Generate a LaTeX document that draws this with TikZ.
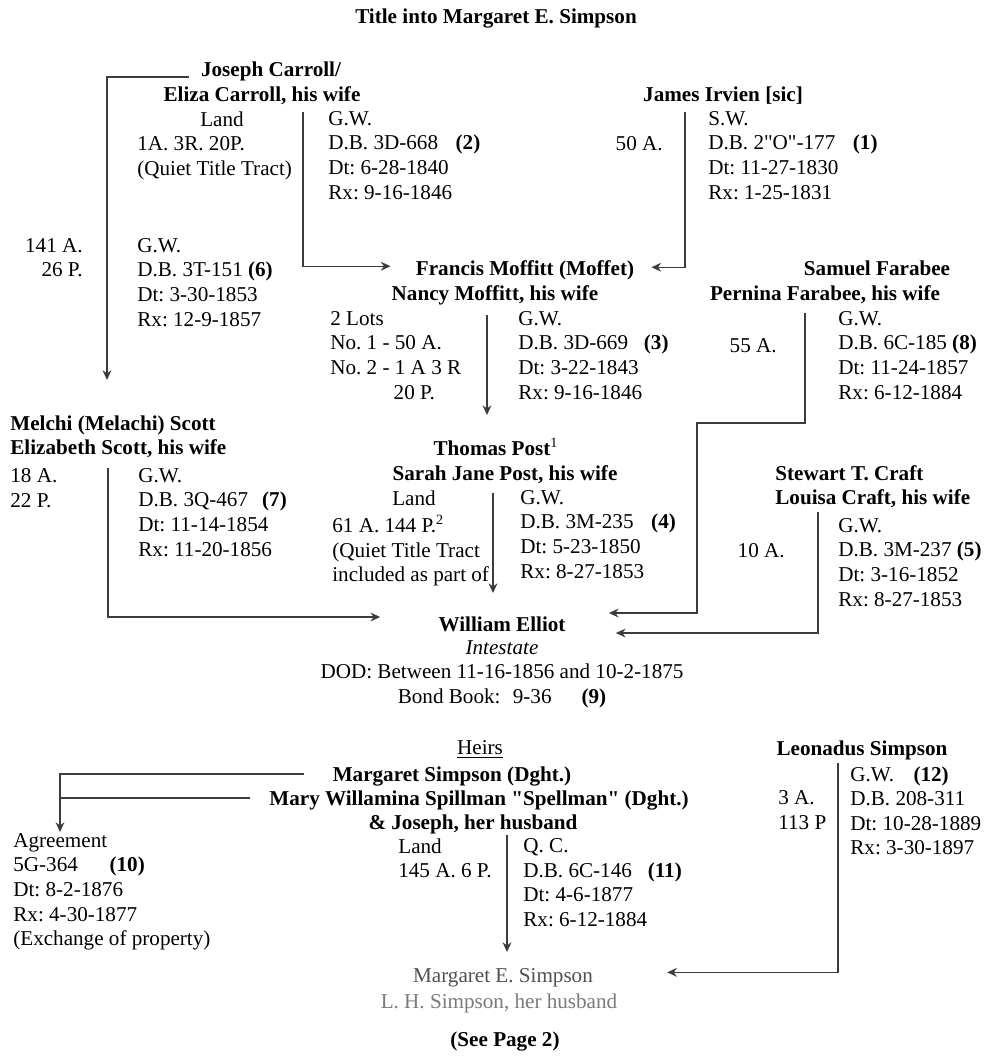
\documentclass[tikz,border=0pt]{standalone}
\usepackage{fontspec}
\setmainfont{Liberation Serif}[Ligatures=TeXOff]
\usetikzlibrary{arrows.meta,calc}
\definecolor{ink}{HTML}{3C3C3C}
\definecolor{fade}{HTML}{505050}
\definecolor{fadel}{HTML}{7A7A7A}
\frenchspacing

\begin{document}
\begin{tikzpicture}[x=0.568pt, y=-0.568pt,
      every node/.style={inner sep=0pt, font=\fontsize{12}{14}\selectfont},
      who/.style={anchor=north, font=\fontsize{12}{14}\selectfont\bfseries},
      col/.style={anchor=north west, align=left},
      rcol/.style={anchor=north east, align=right},
      lnk/.style={draw=ink, line width=0.7pt},
      arr/.style={lnk, -{Stealth[length=5.5pt, width=5pt]}}]
    \fill[white] (0,0) rectangle (985,1061);
    \useasboundingbox (0,0) rectangle (985,1061);

    \node[who] (title) at (496,8) {Title into Margaret E. Simpson};

    \node[who] (joseph) at (271,61) {Joseph Carroll/};
    \node[who] (eliza) at (262,86) {Eliza Carroll, his wife};
    \node[anchor=north] (carland) at (222,111) {Land};
    \node[col] (carleft) at (137,136) {1A. 3R. 20P.\\(Quiet Title Tract)};
    \node[col] (carright) at (328,111) {G.W.\\D.B. 3D-668\hspace{10pt}\textbf{(2)}\\Dt: 6-28-1840\\Rx: 9-16-1846};

    \node[who] (irvien) at (723,86) {James Irvien [sic]};
    \node[rcol] (irvleft) at (663,136) {50 A.};
    \node[col] (irvright) at (708,111) {S.W.\\D.B. 2"O"-177\hspace{10pt}\textbf{(1)}\\Dt: 11-27-1830\\Rx: 1-25-1831};

    \node[rcol] (scoleft) at (83,238) {141 A.\\26 P.};
    \node[col] (scoright) at (137,238) {G.W.\\D.B. 3T-151 \textbf{(6)}\\Dt: 3-30-1853\\Rx: 12-9-1857};

    \node[who] (francis) at (525,260) {Francis Moffitt (Moffet)};
    \node[who] (nancy) at (495,285) {Nancy Moffitt, his wife};
    \node[col] (mofleft) at (330,311) {2 Lots\\No. 1 - 50 A.\\No. 2 - 1 A 3 R\\\hspace*{36pt}20 P.};
    \node[col] (mofright) at (518,311) {G.W.\\D.B. 3D-669\hspace{9pt}\textbf{(3)}\\Dt: 3-22-1843\\Rx: 9-16-1846};

    \node[who] (samuel) at (877,260) {Samuel Farabee};
    \node[who] (pernina) at (825,285) {Pernina Farabee, his wife};
    \node[rcol] (farleft) at (777,338) {55 A.};
    \node[col] (farright) at (838,311) {G.W.\\D.B. 6C-185 \textbf{(8)}\\Dt: 11-24-1857\\Rx: 6-12-1884};

    \node[who, anchor=north west, align=left] (scott) at (10,415) {Melchi (Melachi) Scott\\Elizabeth Scott, his wife};
    \node[col] (sco2left) at (10,468) {18 A.\\22 P.};
    \node[col] (sco2right) at (138,468) {G.W.\\D.B. 3Q-467\hspace{8pt}\textbf{(7)}\\Dt: 11-14-1854\\Rx: 11-20-1856};

    \node[who] (thomas) at (496,438) {Thomas Post\textsuperscript{\normalfont 1}};
    \node[who] (sarah) at (505,465) {Sarah Jane Post, his wife};
    \node[anchor=north] (postland) at (414,490) {Land};
    \node[col] (postleft) at (332,515) {61 A. 144 P.\textsuperscript{2}\\(Quiet Title Tract\\included as part of};
    \node[col] (postright) at (520,490) {G.W.\\D.B. 3M-235\hspace{10pt}\textbf{(4)}\\Dt: 5-23-1850\\Rx: 8-27-1853};

    \node[who, anchor=north west, align=left] (craft) at (775,465) {Stewart T. Craft\\Louisa Craft, his wife};
    \node[rcol] (craleft) at (785,543) {10 A.};
    \node[col] (craright) at (838,518) {G.W.\\D.B. 3M-237 \textbf{(5)}\\Dt: 3-16-1852\\Rx: 8-27-1853};

    \node[who] (elliot) at (502,616) {William Elliot};
    \node[anchor=north, align=center] (elliotinfo) at (502,640) {\textit{Intestate}\\DOD: Between 11-16-1856 and 10-2-1875\\Bond Book:\hspace{7pt}9-36\hspace{17pt}\textbf{(9)}};

    \node[anchor=north] (heirs) at (480,740) {\underline{Heirs}};
    \node[who] (margaret) at (452,766) {Margaret Simpson (Dght.)};
    \node[who] (mary) at (479,790) {Mary Willamina Spillman "Spellman" (Dght.)};
    \node[who] (husband) at (473,814) {\& Joseph, her husband};
    \node[col] (heirland) at (398,838) {Land\\145 A. 6 P.};
    \node[col] (heirright) at (523,838) {Q. C.\\D.B. 6C-146\hspace{9pt}\textbf{(11)}\\Dt: 4-6-1877\\Rx: 6-12-1884};

    \node[col] (agree) at (13,833) {Agreement\\5G-364\hspace{18pt}\textbf{(10)}\\Dt: 8-2-1876\\Rx: 4-30-1877\\(Exchange of property)};

    \node[who] (leonadus) at (862,740) {Leonadus Simpson};
    \node[col] (leoleft) at (778,790) {3 A.\\113 P};
    \node[col] (leoright) at (850,766) {G.W.\hspace{11pt}\textbf{(12)}\\D.B. 208-311\\Dt: 10-28-1889\\Rx: 3-30-1897};

    \node[anchor=north, text=fade] (mes) at (503,968) {Margaret E. Simpson};
    \node[anchor=north, text=fadel] (lhs) at (499,993) {L. H. Simpson, her husband};
    \node[who] (seepage) at (505,1031) {(See Page 2)};

    \coordinate (carsep) at (303,112);
    \coordinate (irvsep) at (685,112);
    \coordinate (mofsep) at (487,315);
    \coordinate (farsep) at (805,313);
    \coordinate (farbend) at (697,423);
    \coordinate (scosep) at (108,468);
    \coordinate (postsep) at (493,493);
    \coordinate (crasep) at (818,512);
    \coordinate (heirsep) at (507,835);
    \coordinate (leosep) at (838,763);
    \coordinate (agreetip) at ($(agree.north west)+(47,-1)$);

    \draw[arr] ($(joseph.base west)+(-12,1)$) -| ($(scott.north west)+(97,-35)$);
    \draw[arr] (carsep) |- ($(francis.base west)+(-25,-9)$);
    \draw[arr] (irvsep) |- ($(francis.base east)+(17,-8)$);
    \draw[arr] (mofsep) -- ($(mofsep |- thomas.north)+(0,-23)$);
    \draw[arr] (farsep) |- (farbend) |- ($(elliot.base east)+(43,-18)$);
    \draw[arr] (scosep) |- ($(elliot.base west)+(-58,-14)$);
    \draw[arr] (postsep) -- ($(postsep |- elliot.north)+(0,-23)$);
    \draw[arr] (crasep) |- ($(elliot.base east)+(50,2)$);
    \draw[arr] ($(margaret.base west)+(-28,-7)$) -| (agreetip);
    \draw[lnk] ($(mary.base west)+(-19,-7)$) -- (agreetip |- {$(mary.base west)+(0,-7)$});
    \draw[arr] (heirsep) -- ($(heirsep |- mes.north)+(0,-16)$);
    \draw[arr] (leosep) |- ($(mes.base east)+(74,-10)$);
  \end{tikzpicture}
\end{document}
